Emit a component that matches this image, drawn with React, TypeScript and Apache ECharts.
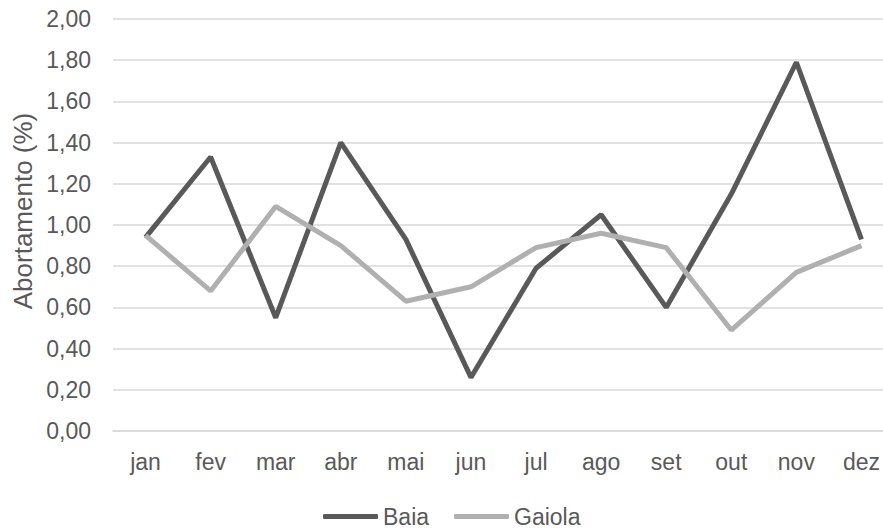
import React, { useEffect, useRef } from "react";
import * as echarts from "echarts";

const categories = ["jan", "fev", "mar", "abr", "mai", "jun", "jul", "ago", "set", "out", "nov", "dez"];
const baia = [0.94, 1.33, 0.55, 1.40, 0.93, 0.26, 0.79, 1.05, 0.60, 1.15, 1.79, 0.93];
const gaiola = [0.95, 0.68, 1.09, 0.90, 0.63, 0.70, 0.89, 0.96, 0.89, 0.49, 0.77, 0.90];
const yTicks = { min: 0, max: 2, interval: 0.2 };
const yTitle = "Abortamento (%)";

const FONT = "'Liberation Sans', Arial, sans-serif";

export default function App() {
  const ref = useRef<HTMLDivElement>(null);
  useEffect(() => {
    document.body.style.margin = "0";
    document.body.style.overflow = "hidden";
    const chart = echarts.init(ref.current!, null, { renderer: "svg" });
    chart.setOption({
      animation: false,
      textStyle: { fontFamily: FONT },
      grid: { left: 113, right: 0, top: 19, bottom: 98, containLabel: false },
      graphic: [
        {
          type: "text",
          x: 23,
          y: 211,
          rotation: Math.PI / 2,
          style: {
            text: yTitle,
            fill: "#595959",
            fontSize: 26,
            fontFamily: FONT,
            align: "center",
            verticalAlign: "middle",
          },
        },
      ],
      xAxis: {
        type: "category",
        data: categories,
        boundaryGap: true,
        axisLine: { show: true, lineStyle: { color: "#D9D9D9", width: 1.5 } },
        axisTick: { show: false },
        axisLabel: { color: "#595959", fontSize: 23, margin: 19, fontFamily: FONT },
      },
      yAxis: {
        type: "value",
        min: yTicks.min,
        max: yTicks.max,
        interval: yTicks.interval,
        axisLine: { show: false },
        axisTick: { show: false },
        axisLabel: {
          color: "#595959",
          fontSize: 23,
          margin: 22,
          fontFamily: FONT,
          formatter: (v: number) => v.toFixed(2).replace(".", ","),
        },
        splitLine: { lineStyle: { color: "#D9D9D9", width: 1.5 } },
      },
      legend: {
        bottom: 1,
        left: 323,
        padding: 0,
        itemWidth: 55,
        itemHeight: 5,
        itemGap: 25,
        icon: "roundRect",
        textStyle: { color: "#595959", fontSize: 23, fontFamily: FONT },
        data: ["Baia", "Gaiola"],
      },
      series: [
        {
          name: "Baia",
          type: "line",
          data: baia,
          symbol: "none",
          itemStyle: { color: "#595959" },
          lineStyle: { color: "#595959", width: 5 },
        },
        {
          name: "Gaiola",
          type: "line",
          data: gaiola,
          symbol: "none",
          itemStyle: { color: "#B0B0B0" },
          lineStyle: { color: "#B0B0B0", width: 5 },
        },
      ],
    });
    return () => chart.dispose();
  }, []);
  return <div ref={ref} style={{ width: 894, height: 529 }} />;
}
